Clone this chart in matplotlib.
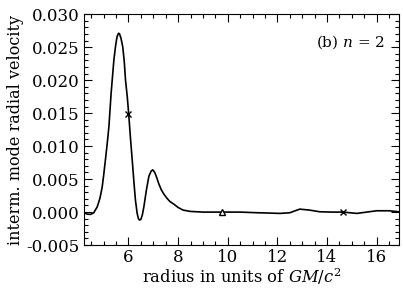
import matplotlib
matplotlib.use("Agg")
import matplotlib.pyplot as plt
from matplotlib.ticker import MultipleLocator

plt.rcParams['font.family'] = ['DejaVu Serif']
plt.rcParams['mathtext.fontset'] = 'dejavuserif'

# curve
radius = [4.20, 4.32, 4.47, 4.60, 4.74, 4.85, 4.94, 5.00, 5.07, 5.14, 5.21, 5.30,
          5.41, 5.48, 5.54, 5.60, 5.64, 5.70, 5.77, 5.83, 5.88, 5.95, 6.01, 6.08,
          6.15, 6.22, 6.28, 6.35, 6.40, 6.44, 6.50, 6.56, 6.62, 6.72, 6.82, 6.91,
          6.98, 7.06, 7.14, 7.22, 7.32, 7.43, 7.55, 7.67, 7.83, 8.00, 8.20, 8.50,
          9.00, 9.75, 10.5, 11.2, 11.7, 12.1, 12.5, 12.9, 13.3, 13.7, 14.2, 14.65,
          15.2, 15.6, 16.0, 16.5, 16.9]
velocity = [0.0000, -0.0003, -0.00035, -0.0001, 0.0008, 0.0021, 0.0038, 0.0056,
            0.0079, 0.0103, 0.0129, 0.0180, 0.0230, 0.0252, 0.0266, 0.0271,
            0.0270, 0.0263, 0.0250, 0.0228, 0.0200, 0.0175, 0.0148, 0.0112,
            0.0079, 0.0045, 0.0018, -0.0002, -0.0010, -0.0012, -0.0011, -0.0004,
            0.0008, 0.0033, 0.0054, 0.0062, 0.0064, 0.0060, 0.0052, 0.0043,
            0.0034, 0.0027, 0.0021, 0.0016, 0.0012, 0.0007, 0.0003, 0.0001,
            0.0000, 0.0000, 0.0000, -0.0001, -0.00015, -0.0002, -0.0001, 0.00045,
            0.0003, 0.00005, 0.0000, 0.0000, -0.0002, 0.0000, 0.0002, 0.0002,
            0.00005]

cross_r = [6.0, 14.65]
cross_v = [0.0148, 0.0]
tri_r = [9.75]
tri_v = [0.0]

fig = plt.figure(figsize=(4.03, 2.88), dpi=100)
ax = fig.add_axes([0.208, 0.149, 0.782, 0.802])

ax.plot(radius, velocity, color='black', lw=1.2)
ax.plot(cross_r, cross_v, 'x', color='black', ms=5, mew=1.0)
ax.plot(tri_r, tri_v, '^', color='black', mfc='white', ms=5, mew=1.0)

ax.set_xlim(4.2, 16.9)
ax.set_ylim(-0.005, 0.030)
ax.xaxis.set_major_locator(MultipleLocator(2))
ax.xaxis.set_minor_locator(MultipleLocator(0.5))
ax.yaxis.set_major_locator(MultipleLocator(0.005))
ax.yaxis.set_minor_locator(MultipleLocator(0.001))
ax.yaxis.set_major_formatter(plt.FuncFormatter(lambda v, p: '%.3f' % v if abs(v) > 1e-9 else '0.000'))
ax.tick_params(which='both', direction='in', top=True, right=True, labelsize=12)
ax.tick_params(which='major', length=6, width=0.8, pad=3)
ax.tick_params(which='minor', length=3, width=0.8)

ax.set_xlabel('radius in units of $GM/c^2$', fontsize=11.8, labelpad=0)
ax.set_ylabel('interm. mode radial velocity', fontsize=11.5, labelpad=2)
ax.text(0.955, 0.88, '(b) $n$ = 2', transform=ax.transAxes, ha='right', va='center', fontsize=11)

fig.savefig('out.png', dpi=100)
